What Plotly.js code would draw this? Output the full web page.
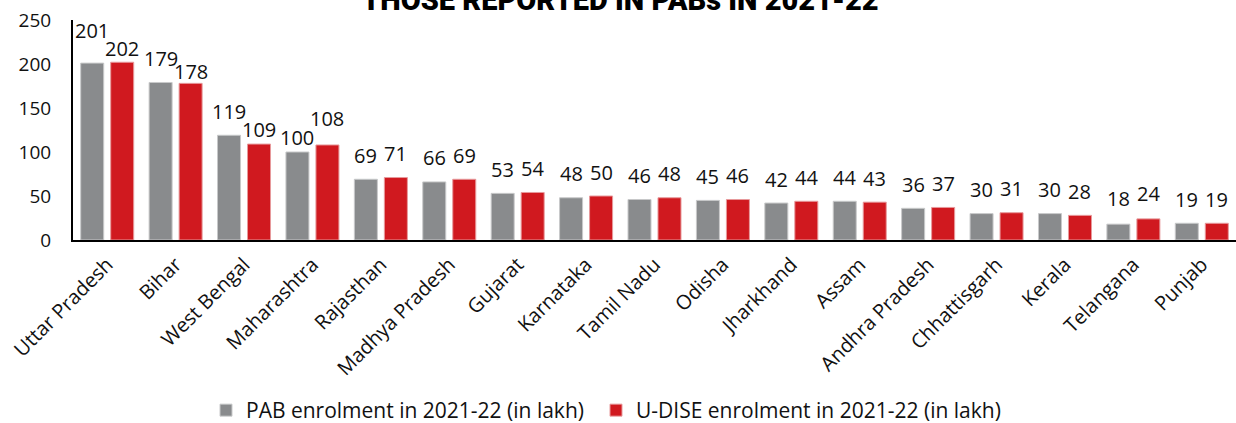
<!DOCTYPE html>
<html>
<head>
<meta charset="utf-8">
<script src="https://cdn.plot.ly/plotly-3.0.1.min.js"></script>
<style>html,body{margin:0;padding:0;background:#fff;} #chart{width:1236px;height:423px;}</style>
</head>
<body>
<div id="chart"></div>
<script>
const states = ["Uttar Pradesh","Bihar","West Bengal","Maharashtra","Rajasthan","Madhya Pradesh","Gujarat","Karnataka","Tamil Nadu","Odisha","Jharkhand","Assam","Andhra Pradesh","Chhattisgarh","Kerala","Telangana","Punjab"];
const pabEnrolment = [201,179,119,100,69,66,53,48,46,45,42,44,36,30,30,18,19];
const udiseEnrolment = [202,178,109,108,71,69,54,50,48,46,44,43,37,31,28,24,19];
const pabName = "PAB enrolment in 2021-22 (in lakh)";
const udiseName = "U-DISE enrolment in 2021-22 (in lakh)";
const titleText = "THOSE REPORTED IN PABs IN 2021-22";

// label vertical offsets (px) — styling only
const pabShift = [33,24,24,15,24,24,24,24,24,24,24,24,24,24,24,26,24];
const udiseShift = [14,12,15,26,24,24,24,24,24,24,24,24,24,24,24,25,24];

const GRAY = "#898b8d", RED = "#d0191f";
const numFont = {family:"Open Sans, Lato, sans-serif", size:20, color:"#111"};
const legFont = {family:"Open Sans, Lato, sans-serif", size:21, color:"#111"};

const traces = [
  {type:"bar", name:pabName, x:states, y:pabEnrolment, legend:"legend", marker:{color:GRAY, line:{color:"#c8c9ca", width:1}}, hoverinfo:"skip"},
  {type:"bar", name:udiseName, x:states, y:udiseEnrolment, legend:"legend2", marker:{color:RED, line:{color:"#e79a9c", width:1}}, hoverinfo:"skip"}
];

const annotations = [];
states.forEach((s,i)=>{
  annotations.push({x:s, y:pabEnrolment[i], text:String(pabEnrolment[i]), showarrow:false, xshift:-15, yshift:pabShift[i], yanchor:"middle", font:numFont});
  annotations.push({x:s, y:udiseEnrolment[i], text:String(udiseEnrolment[i]), showarrow:false, xshift:15, yshift:udiseShift[i], yanchor:"middle", font:numFont});
});
annotations.push({xref:"paper", yref:"paper", x:0.471, y:1.09, xanchor:"center", yanchor:"middle", showarrow:false,
  text:titleText, font:{family:"Roboto, Liberation Sans, sans-serif", size:29, weight:900, color:"#000"}});

const layout = {
  width:1236, height:423,
  margin:{l:73, r:0, t:20, b:183, pad:0, autoexpand:false},
  paper_bgcolor:"#fff", plot_bgcolor:"#fff",
  barmode:"group", bargap:0.123, bargroupgap:0.233,
  showlegend:true,
  legend:{orientation:"h", x:(206-73)/1163, xanchor:"left", y:-0.775, yanchor:"middle", font:legFont, itemwidth:30},
  legend2:{orientation:"h", x:(596-73)/1163, xanchor:"left", y:-0.775, yanchor:"middle", font:legFont, itemwidth:30},
  xaxis:{type:"category", showline:true, linecolor:"#000", linewidth:2, showgrid:false, zeroline:false,
    tickangle:-45, ticks:"outside", ticklen:3, tickcolor:"rgba(0,0,0,0)", tickfont:{family:"Open Sans, Lato, sans-serif", size:20, color:"#111"}, automargin:false},
  yaxis:{range:[0,250], dtick:50, showline:true, linecolor:"#000", linewidth:2, showgrid:false, zeroline:false,
    ticks:"outside", ticklen:16, tickcolor:"rgba(0,0,0,0)", tickfont:{family:"Open Sans, Lato, sans-serif", size:19, color:"#111"}, automargin:false},
  annotations:annotations
};

Plotly.newPlot("chart", traces, layout, {staticPlot:true, displayModeBar:false});
</script>
</body>
</html>
